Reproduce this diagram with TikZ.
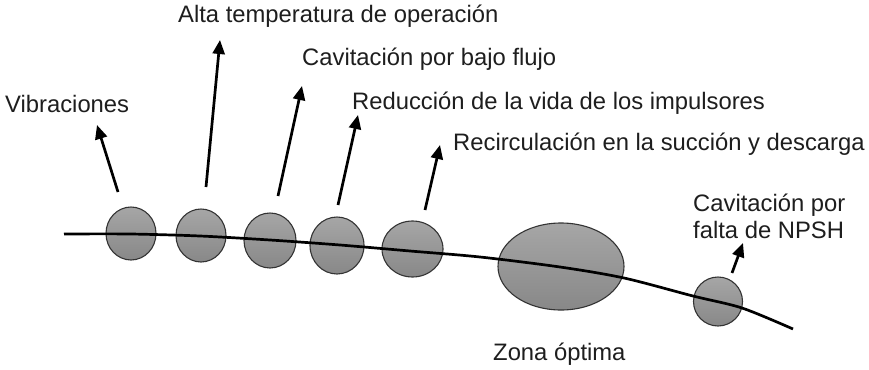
\documentclass[tikz,border=0pt]{standalone}
\usepackage{fontspec}
\setmainfont{Liberation Sans}
\usetikzlibrary{shapes.geometric,arrows.meta}
\definecolor{txt}{HTML}{1E1E1E}
\definecolor{rim}{HTML}{333333}
\definecolor{ftop}{HTML}{A6A6A6}
\definecolor{fbot}{HTML}{888888}
\begin{document}
\begin{tikzpicture}[x=1pt,y=-1pt,
  blob/.style={ellipse, draw=rim, line width=1.1pt, top color=ftop, bottom color=fbot, inner sep=0pt},
  lbl/.style={anchor=base west, inner sep=0pt, text=txt, font=\fontsize{23.8}{27}\selectfont},
  up/.style={line width=2.7pt, -{Triangle[length=14pt,width=12pt]}},
  curveline/.style={line width=2.7pt}]
\fill[white] (0,0) rectangle (869,369);
\useasboundingbox (0,0) rectangle (869,369);
% ellipses
\node[blob, minimum width=50pt, minimum height=53pt] (e1) at (131,233.5) {};
\node[blob, minimum width=50pt, minimum height=53pt] (e2) at (201,235.5) {};
\node[blob, minimum width=52pt, minimum height=55pt] (e3) at (270,240.5) {};
\node[blob, minimum width=54pt, minimum height=57pt] (e4) at (337,245.5) {};
\node[blob, minimum width=61pt, minimum height=56pt] (e5) at (412.5,249) {};
\node[blob, minimum width=126pt, minimum height=87pt] (e6) at (561,266.5) {};
\node[blob, minimum width=49pt, minimum height=49pt] (e7) at (718,301.5) {};
% curve
\draw[curveline] plot[smooth, tension=0.5] coordinates {(64,234) (130,234) (200,236) (270,240) (340,245) (410,251) (480,257) (560,267) (624,278) (693,296) (742,308) (793,329)};
% labels
\node[lbl] (l1) at (5,112) {Vibraciones};
\node[lbl] (l2) at (178,23) {Alta temperatura de operación};
\node[lbl] (l3) at (302,65) {Cavitación por bajo flujo};
\node[lbl] (l4) at (352,109) {Reducción de la vida de los impulsores};
\node[lbl] (l5) at (453,150) {Recirculación en la succión y descarga};
\node[lbl] (l6) at (693,211) {Cavitación por};
\node[lbl] (l7) at (693,238) {falta de NPSH};
\node[lbl] (l8) at (493,360) {Zona óptima};
% arrow ends
\coordinate (a1s) at (118,192); \coordinate (a1t) at (97,125);
\coordinate (a2s) at (206,187); \coordinate (a2t) at (220,40);
\coordinate (a3s) at (278,196); \coordinate (a3t) at (302,86);
\coordinate (a4s) at (338,205); \coordinate (a4t) at (358,115);
\coordinate (a5s) at (425,210); \coordinate (a5t) at (440,145);
\coordinate (a6s) at (732,273); \coordinate (a6t) at (743,243);
\draw[up] (a1s) -- (a1t);
\draw[up] (a2s) -- (a2t);
\draw[up] (a3s) -- (a3t);
\draw[up] (a4s) -- (a4t);
\draw[up] (a5s) -- (a5t);
\draw[up] (a6s) -- (a6t);
\end{tikzpicture}
\end{document}
